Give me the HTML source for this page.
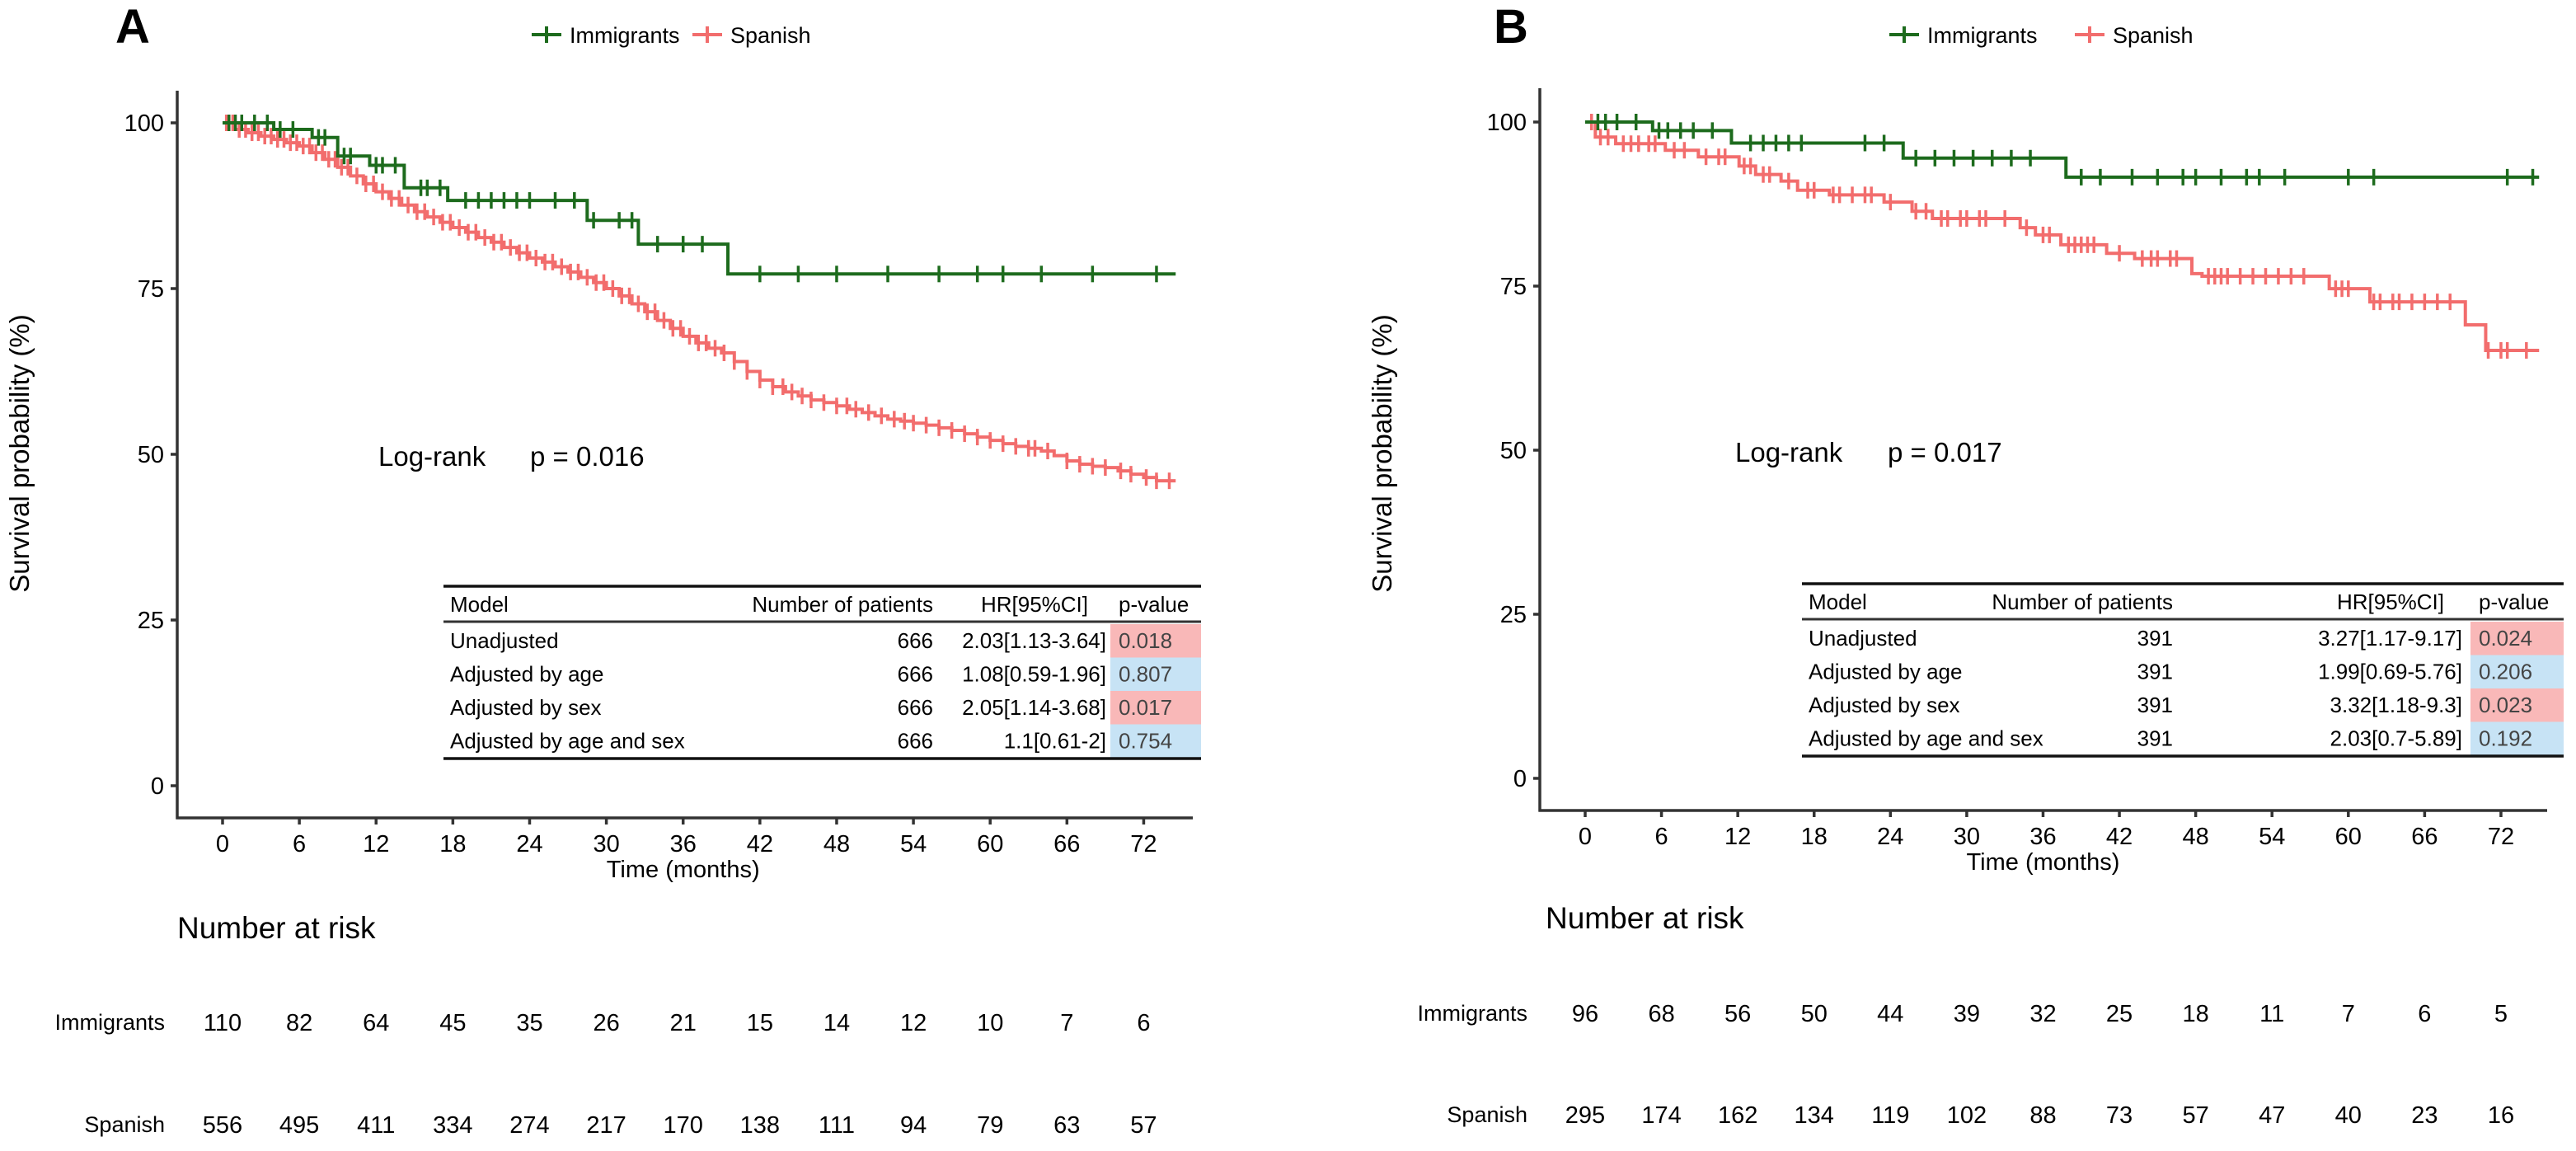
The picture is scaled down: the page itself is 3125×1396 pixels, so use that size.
<!DOCTYPE html>
<html>
<head>
<meta charset="utf-8">
<style>
html,body{margin:0;padding:0;background:#fff;}
svg{display:block;font-family:"Liberation Sans",sans-serif;}
</style>
</head>
<body>
<svg id="fig" width="3125" height="1396" viewBox="0 0 3125 1396" xmlns="http://www.w3.org/2000/svg"></svg>
<script>
// ---------- DATA ----------
const riskTimes = [0,6,12,18,24,30,36,42,48,54,60,66,72];
const yTicks = [0,25,50,75,100];
// Panel A
const aImmT = [0,4,7,9,11.5,14.2,17.6,28.5,32.5,39.5,74.5];
const aImmS = [100,99,97.8,95,93.6,90.2,88.3,85.3,81.7,77.2,77.2];
const aImmCens = [0.5,1,1.5,2.5,3.5,4.5,5.5,7.5,8,9.5,10,12,12.5,13.5,15.5,16,17,19,20,21,22,23,24,26,27.5,29,31,32,34,36,37.5,42,45,48,52,56,59,61,64,68,73];
const aSpaT = [0,1,2,3,4,5,6,7,8,9,10,11,12,13,14,15,16,17,18,19,20,21,22,23,24,25,26,27,28,29,30,31,32,33,34,35,36,37,38,39,40,41,42,43,44,45,46,47,48,49,50,51,52,53,54,55,56,57,58,59,60,61,62,63,64,65,66,67,68,69,70,71,72,73,74.5];
const aSpaS = [100,99,98.5,98,97.5,97,96.5,95.5,94.5,93.3,92,90.8,89.6,88.6,87.6,86.6,85.8,85,84.2,83.5,82.7,82,81.2,80.4,79.6,79,78.3,77.5,76.7,75.9,75,73.9,72.7,71.5,70.2,69,67.8,66.8,66,65.3,64,62.5,61.2,60.2,59.4,58.8,58.2,57.8,57.3,56.8,56.3,55.8,55.3,55,54.7,54.4,54,53.6,53.1,52.6,52.1,51.6,51.2,50.9,50.5,49.8,49,48.5,48.2,48,47.5,47,46.5,46,46];
const aSpaCens = [0.3,0.8,1.3,1.8,2.3,2.8,3.3,3.8,4.3,4.8,5.3,5.8,6.3,6.8,7.3,7.8,8.3,8.8,9.3,9.8,10.5,11.2,11.8,12.5,13.2,13.8,14.5,15.2,15.8,16.5,17.2,17.8,18.5,19.2,19.8,20.5,21.2,21.8,22.5,23.2,23.8,24.5,25.2,25.8,26.5,27.2,27.8,28.5,29.2,29.8,30.5,31.2,31.8,32.5,33.2,33.8,34.5,35.2,35.8,36.5,37.2,37.8,38.5,39.2,40,41,42,43,43.8,44.5,45.3,46,47,48,48.8,49.5,50.5,51.5,52.5,53.3,54,55,56,57,58,59,60,61,62,63,63.5,64.5,66,67,68,69,70.2,71,72.2,73,74];
// Panel B
const bImmT = [0,5.3,11.5,25,37.8,75];
const bImmS = [100,98.7,96.8,94.5,91.6,91.6];
const bImmCens = [1,1.6,2.5,4,5.8,6.5,7.5,8.5,10,13,14,15,16,17,22,23.5,26,27.5,29,30.5,32,33.5,35,39,40.5,43,45,47,48,50,52,53,55,60,62,72.5,74.5];
const bSpaT = [0,0.8,2.4,6.3,8.9,12.1,13.4,15.4,16.7,19.2,23.5,25.7,27.3,34.2,35.4,37.4,41,43.2,47.7,48.5,58.5,61.7,69.2,70.8,75];
const bSpaS = [100,97.7,96.7,95.7,94.7,93.3,92,91,89.6,88.9,87.8,86.4,85.3,83.9,82.8,81.3,80,79.2,76.9,76.5,74.6,72.6,69.1,65.2,65.2];
const bSpaCens = [0.5,1.2,1.8,3,3.6,4.2,5,5.5,7,7.8,9.5,10.5,11,12.5,13,14,14.5,16,17.5,18,19.5,20,21,22,22.5,24,26,26.8,28,28.5,29.5,30,31,31.5,33,34.7,36,36.5,38,38.5,39,39.5,40,42,43.8,44.5,45,46,46.5,49,49.5,50,50.5,51.5,52.5,53.5,54.5,55.5,56.5,59,59.5,60,62,62.5,63.5,64,65,66,67,68,71,72,72.5,74];
// Risk tables
const riskImmA = [110,82,64,45,35,26,21,15,14,12,10,7,6];
const riskSpaA = [556,495,411,334,274,217,170,138,111,94,79,63,57];
const riskImmB = [96,68,56,50,44,39,32,25,18,11,7,6,5];
const riskSpaB = [295,174,162,134,119,102,88,73,57,47,40,23,16];
// Model tables
const modelNames = ["Unadjusted","Adjusted by age","Adjusted by sex","Adjusted by age and sex"];
const nPatA = [666,666,666,666];
const hrA = ["2.03[1.13-3.64]","1.08[0.59-1.96]","2.05[1.14-3.68]","1.1[0.61-2]"];
const pA = [0.018,0.807,0.017,0.754];
const nPatB = [391,391,391,391];
const hrB = ["3.27[1.17-9.17]","1.99[0.69-5.76]","3.32[1.18-9.3]","2.03[0.7-5.89]"];
const pB = [0.024,0.206,0.023,0.192];

// ---------- DRAWING ----------
const NS = "http://www.w3.org/2000/svg";
const svg = document.getElementById('fig');
const GREEN = "#1d6b1d", RED = "#f26d6d";
function mk(tag, attrs, parent, text){
  const e = document.createElementNS(NS, tag);
  for (const k in attrs) e.setAttribute(k, attrs[k]);
  if (text !== undefined) e.textContent = text;
  (parent || svg).appendChild(e);
  return e;
}
function stepVal(T, S, t){ let v = S[0]; for (let i=0;i<T.length;i++){ if (T[i] <= t) v = S[i]; } return v; }

function panel(cfg){
  const g = mk('g', {});
  
  
  const X = t => cfg.x0 + t*cfg.ppm;
  const Y = s => cfg.y0 - s*(cfg.y0-cfg.y100)/100;
  const L = mk('text', {x:cfg.letterX, y:52, 'font-size':58, 'font-weight':'bold', fill:'#000'}, g, cfg.letter);
  
  
  const lg = mk('g', {}, g);
  
  
  [[GREEN,'Immigrants',cfg.legX],[RED,'Spanish',cfg.legX+cfg.legGap]].forEach(([c,lab,lx])=>{
    const it = mk('g', {}, lg);
    
    
    mk('line', {x1:lx-18, x2:lx+18, y1:42, y2:42, stroke:c, 'stroke-width':4}, it);
    mk('line', {x1:lx, x2:lx, y1:32, y2:52, stroke:c, 'stroke-width':4}, it);
    mk('text', {x:lx+28, y:52, 'font-size':27, fill:'#000'}, it, lab);
  });
  const ax = mk('g', {stroke:'#333', 'stroke-width':3.5, fill:'none'}, g);
  
  
  mk('line', {x1:cfg.axisX, x2:cfg.axisX, y1:cfg.axisTop, y2:cfg.axisY+1.5}, ax);
  mk('line', {x1:cfg.axisX-1.5, x2:cfg.axisRight, y1:cfg.axisY, y2:cfg.axisY}, ax);
  yTicks.forEach(v=>{
    mk('line', {x1:cfg.axisX-8, x2:cfg.axisX, y1:Y(v), y2:Y(v)}, ax);
    const t = mk('text', {x:cfg.axisX-16, y:Y(v)+10, 'font-size':29, 'text-anchor':'end', fill:'#000', stroke:'none'}, g, v);
    
    
  });
  riskTimes.forEach(v=>{
    mk('line', {x1:X(v), x2:X(v), y1:cfg.axisY, y2:cfg.axisY+8}, ax);
    const t = mk('text', {x:X(v), y:cfg.axisY+41, 'font-size':29, 'text-anchor':'middle', fill:'#000', stroke:'none'}, g, v);
    
    
  });
  const yt = mk('text', {x:0, y:0, 'font-size':33, 'text-anchor':'middle', fill:'#000', transform:`translate(${cfg.yTitleX},550) rotate(-90)`}, g, 'Survival probability (%)');
  
  
  const xt = mk('text', {x:(X(0)+X(72))/2, y:cfg.axisY+72, 'font-size':29, 'text-anchor':'middle', fill:'#000'}, g, 'Time (months)');
  
  
  function curve(T,S,C,color,nm){
    let d = `M${X(T[0])},${Y(S[0])}`;
    for (let i=1;i<T.length;i++){ d += ` H${X(T[i])} V${Y(S[i])}`; }
    const p = mk('path', {d:d, fill:'none', stroke:color, 'stroke-width':4}, g);
    
    
    const cg = mk('g', {stroke:color, 'stroke-width':3.5}, g);
    
    
    C.forEach(t=>{
      const yy = Y(stepVal(T,S,t));
      const m = mk('line', {x1:X(t), x2:X(t), y1:yy-10, y2:yy+10}, cg);
      
    });
  }
  curve(cfg.spaT, cfg.spaS, cfg.spaC, RED, 'spanish');
  curve(cfg.immT, cfg.immS, cfg.immC, GREEN, 'immigrants');
  const lr = mk('text', {x:cfg.lrX, y:cfg.lrY, 'font-size':33, fill:'#000'}, g, 'Log-rank');
  
  
  const pv = mk('text', {x:cfg.lrX+cfg.pOff, y:cfg.lrY, 'font-size':33, fill:'#000'}, g, 'p = ' + cfg.logp);
  
  
  const tb = mk('g', {'font-size':26, fill:'#000'}, g);
  
  
  const T0 = cfg.tTop, rowH = 40.5, hdrLine = T0+43;
  cfg.pv.forEach((p,i)=>{
    const cy = hdrLine + rowH*i + 23;
    const r = mk('rect', {x:cfg.tPx, y:cy-20, width:cfg.tR-cfg.tPx, height:rowH, fill: p < 0.05 ? '#f9b8b8' : '#c7e3f5'}, tb);
    
  });
  mk('line', {x1:cfg.tL, x2:cfg.tR, y1:T0, y2:T0, stroke:'#111', 'stroke-width':3.5}, tb);
  mk('line', {x1:cfg.tL, x2:cfg.tR, y1:hdrLine, y2:hdrLine, stroke:'#333', 'stroke-width':3}, tb);
  const hy = T0+31;
  mk('text', {x:cfg.tL+8, y:hy}, tb, 'Model');
  mk('text', {x:cfg.tN, y:hy, 'text-anchor':'end'}, tb, 'Number of patients');
  mk('text', {x:cfg.tH-22, y:hy, 'text-anchor':'end'}, tb, 'HR[95%CI]');
  mk('text', {x:cfg.tPx+10, y:hy}, tb, 'p-value');
  modelNames.forEach((m,i)=>{
    const by = hdrLine + rowH*i + 32;
    mk('text', {x:cfg.tL+8, y:by}, tb, m);
    mk('text', {x:cfg.tN, y:by, 'text-anchor':'end'}, tb, cfg.np[i]);
    mk('text', {x:cfg.tH, y:by, 'text-anchor':'end'}, tb, cfg.hr[i]);
    mk('text', {x:cfg.tPx+10, y:by, fill:'#444'}, tb, cfg.pv[i].toFixed(3));
  });
  const bot = hdrLine + rowH*4 + 4;
  mk('line', {x1:cfg.tL, x2:cfg.tR, y1:bot, y2:bot, stroke:'#111', 'stroke-width':3.5}, tb);
  const rk = mk('g', {'font-size':29, fill:'#000'}, g);
  
  
  mk('text', {x:cfg.riskTitleX, y:cfg.riskTitleY, 'font-size':37}, rk, 'Number at risk');
  [['Immigrants',cfg.rImm,cfg.rY1],['Spanish',cfg.rSpa,cfg.rY2]].forEach(([lab,arr,yy])=>{
    mk('text', {x:cfg.rLabR, y:yy+10, 'text-anchor':'end', 'font-size':27}, rk, lab);
    arr.forEach((v,i)=>{
      const c = mk('text', {x:X(riskTimes[i]), y:yy+11, 'text-anchor':'middle'}, rk, v);
      
    });
  });
}

panel({name:'panel-a', letter:'A', letterX:140, legX:663, legGap:195,
  x0:270, ppm:15.52, y100:149, y0:953, axisX:215, axisY:992, axisTop:110, axisRight:1447, yTitleX:35,
  immT:aImmT, immS:aImmS, immC:aImmCens, spaT:aSpaT, spaS:aSpaS, spaC:aSpaCens,
  lrX:459, lrY:565, pOff:184, logp:'0.016',
  tTop:711, tL:538, tR:1457, tN:1132, tH:1342, tPx:1347, np:nPatA, hr:hrA, pv:pA,
  riskTitleX:215, riskTitleY:1138, rLabR:200, rY1:1239, rY2:1363, rImm:riskImmA, rSpa:riskSpaA});

panel({name:'panel-b', letter:'B', letterX:1812, legX:2310, legGap:225,
  x0:1923, ppm:15.43, y100:148, y0:944, axisX:1868, axisY:983, axisTop:107, axisRight:3090, yTitleX:1688,
  immT:bImmT, immS:bImmS, immC:bImmCens, spaT:bSpaT, spaS:bSpaS, spaC:bSpaCens,
  lrX:2105, lrY:560, pOff:185, logp:'0.017',
  tTop:708, tL:2186, tR:3110, tN:2636, tH:2987, tPx:2997, np:nPatB, hr:hrB, pv:pB,
  riskTitleX:1875, riskTitleY:1126, rLabR:1853, rY1:1228, rY2:1351, rImm:riskImmB, rSpa:riskSpaB});
</script>
</body>
</html>
